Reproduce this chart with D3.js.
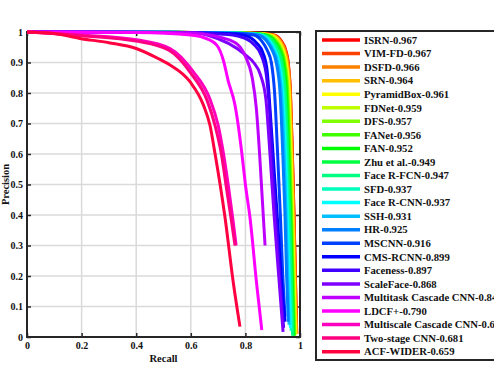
<!DOCTYPE html>
<html lang="en">
<head>
	<meta charset="utf-8">
	<title>PR curves</title>
	<script type="text/javascript" src="https://cdn.jsdelivr.net/npm/d3@7/dist/d3.min.js" charset="utf-8"></script>
	<style type="text/css">
		body { margin: 0; background: #fff; }
		.axis path { display: none; }
		.axis line { stroke: #262626; stroke-width: 1.5; }
		.axis text {
			font-family: "Liberation Serif", "Times New Roman", serif;
			font-weight: bold;
			font-size: 10px;
			fill: #111;
		}
		.lbl {
			font-family: "Liberation Serif", "Times New Roman", serif;
			font-weight: bold;
			font-size: 10.5px;
			fill: #111;
		}
	</style>
</head>
<body>
<script type="text/javascript">

// Method names and scores, in legend order
var methods = ["ISRN", "VIM-FD", "DSFD", "SRN", "PyramidBox", "FDNet", "DFS", "FANet", "FAN",
	"Zhu et al.", "Face R-FCN", "SFD", "Face R-CNN", "SSH", "HR", "MSCNN", "CMS-RCNN",
	"Faceness", "ScaleFace", "Multitask Cascade CNN", "LDCF+", "Multiscale Cascade CNN",
	"Two-stage CNN", "ACF-WIDER"];
var scores = [0.967, 0.967, 0.966, 0.964, 0.961, 0.959, 0.957, 0.956, 0.952, 0.949, 0.947, 0.937,
	0.937, 0.931, 0.925, 0.916, 0.899, 0.897, 0.868, 0.848, 0.790, 0.691, 0.681, 0.659];

// Curves as [recall, precision] pairs
var prIsrn = [[0,1],[0.5,0.999],[0.85,0.996],[0.905,0.99],[0.932,0.97],[0.948,0.94],[0.957,0.9],[0.965,0.8],[0.972,0.6],[0.978,0.4],[0.983,0.2],[0.988,0.01]];
var prVim = [[0,1],[0.5,0.999],[0.85,0.996],[0.9,0.99],[0.93,0.97],[0.946,0.94],[0.956,0.9],[0.965,0.8],[0.972,0.6],[0.978,0.4],[0.983,0.2],[0.988,0.01]];
var prDsfd = [[0,1],[0.5,0.999],[0.85,0.995],[0.9,0.99],[0.928,0.97],[0.945,0.94],[0.955,0.9],[0.964,0.8],[0.971,0.6],[0.977,0.4],[0.982,0.2],[0.987,0.01]];
var prSrn = [[0,1],[0.5,0.999],[0.84,0.995],[0.895,0.99],[0.925,0.97],[0.942,0.94],[0.952,0.9],[0.962,0.8],[0.969,0.6],[0.975,0.4],[0.98,0.2],[0.986,0.01]];
var prPyramid = [[0,1],[0.5,0.999],[0.84,0.995],[0.89,0.99],[0.92,0.97],[0.938,0.94],[0.949,0.9],[0.96,0.8],[0.967,0.6],[0.973,0.4],[0.978,0.2],[0.984,0.01]];
var prFdnet = [[0,1],[0.5,0.999],[0.83,0.995],[0.885,0.99],[0.917,0.97],[0.935,0.94],[0.946,0.9],[0.957,0.8],[0.965,0.6],[0.971,0.4],[0.976,0.2],[0.982,0.005]];
var prDfs = [[0,1],[0.5,0.999],[0.83,0.995],[0.88,0.99],[0.913,0.97],[0.932,0.94],[0.944,0.9],[0.955,0.8],[0.963,0.6],[0.969,0.4],[0.974,0.2],[0.98,0.005]];
var prFanet = [[0,1],[0.5,0.999],[0.83,0.995],[0.878,0.99],[0.91,0.97],[0.93,0.94],[0.942,0.9],[0.953,0.8],[0.961,0.6],[0.967,0.4],[0.973,0.2],[0.979,0.005]];
var prFan = [[0,1],[0.5,0.999],[0.82,0.995],[0.873,0.99],[0.906,0.97],[0.926,0.94],[0.939,0.9],[0.95,0.8],[0.958,0.6],[0.965,0.4],[0.971,0.2],[0.977,0.005]];
var prZhu = [[0,1],[0.5,0.999],[0.82,0.995],[0.868,0.99],[0.902,0.97],[0.922,0.94],[0.935,0.9],[0.947,0.8],[0.956,0.6],[0.963,0.4],[0.969,0.2],[0.975,0.005]];
var prRfcn = [[0,1],[0.5,0.999],[0.81,0.995],[0.865,0.99],[0.898,0.97],[0.918,0.94],[0.932,0.9],[0.945,0.8],[0.954,0.6],[0.961,0.4],[0.967,0.2],[0.973,0.005]];
var prSfd = [[0,1],[0.5,0.999],[0.8,0.995],[0.855,0.99],[0.89,0.97],[0.91,0.94],[0.925,0.9],[0.939,0.8],[0.949,0.6],[0.956,0.4],[0.962,0.2],[0.968,0.02]];
var prRcnn = [[0,1],[0.5,0.999],[0.8,0.995],[0.855,0.99],[0.888,0.97],[0.908,0.94],[0.922,0.9],[0.936,0.8],[0.946,0.6],[0.953,0.4],[0.959,0.2],[0.965,0.03]];
var prSsh = [[0,1],[0.5,0.999],[0.8,0.995],[0.85,0.99],[0.883,0.97],[0.903,0.94],[0.918,0.9],[0.932,0.8],[0.942,0.6],[0.949,0.4],[0.955,0.2],[0.96,0.04]];
var prHr = [[0,1],[0.5,0.999],[0.79,0.995],[0.845,0.99],[0.878,0.97],[0.898,0.94],[0.913,0.9],[0.927,0.8],[0.937,0.6],[0.945,0.4],[0.951,0.2],[0.957,0.05]];
var prMscnn = [[0,1],[0.5,0.998],[0.77,0.995],[0.83,0.99],[0.86,0.97],[0.88,0.94],[0.895,0.9],[0.907,0.8],[0.918,0.6],[0.928,0.4],[0.937,0.2],[0.945,0.067]];
var prCms = [[0,1],[0.5,0.998],[0.75,0.994],[0.8,0.988],[0.84,0.965],[0.865,0.93],[0.88,0.87],[0.89,0.75],[0.905,0.55],[0.92,0.35],[0.935,0.15],[0.945,0.05]];
var prFaceness = [[0,1],[0.5,0.998],[0.72,0.993],[0.78,0.985],[0.83,0.96],[0.86,0.92],[0.878,0.85],[0.888,0.75],[0.9,0.55],[0.915,0.35],[0.93,0.15],[0.94,0.03]];
var prScaleface = [[0,1],[0.5,0.999],[0.62,0.998],[0.66,0.99],[0.8,0.925],[0.83,0.9],[0.855,0.86],[0.875,0.78],[0.89,0.6],[0.905,0.4],[0.922,0.2],[0.938,0.017]];
var prMtcnn = [[0,1],[0.5,0.998],[0.65,0.993],[0.72,0.98],[0.77,0.96],[0.8,0.92],[0.825,0.85],[0.84,0.75],[0.852,0.6],[0.862,0.45],[0.872,0.3]];
var prLdcf = [[0,1],[0.4,0.998],[0.6,0.99],[0.646,0.982],[0.695,0.957],[0.72,0.905],[0.737,0.84],[0.762,0.76],[0.786,0.61],[0.8,0.5],[0.817,0.39],[0.841,0.176],[0.86,0.023]];
var prMultiscale = [[0,1],[0.2,0.99],[0.4,0.975],[0.524,0.946],[0.609,0.87],[0.67,0.78],[0.7,0.695],[0.72,0.6],[0.74,0.48],[0.755,0.38],[0.766,0.3]];
var prTwostage = [[0,1],[0.2,0.988],[0.4,0.97],[0.52,0.94],[0.6,0.865],[0.66,0.775],[0.69,0.69],[0.712,0.6],[0.732,0.48],[0.749,0.38],[0.762,0.3]];
var prAcf = [[0,1],[0.1,0.995],[0.194,0.979],[0.3,0.965],[0.4,0.946],[0.487,0.91],[0.524,0.892],[0.597,0.837],[0.646,0.761],[0.67,0.695],[0.689,0.6],[0.725,0.394],[0.756,0.176],[0.78,0.034]];

var curves = [prIsrn, prVim, prDsfd, prSrn, prPyramid, prFdnet, prDfs, prFanet, prFan, prZhu,
	prRfcn, prSfd, prRcnn, prSsh, prHr, prMscnn, prCms, prFaceness, prScaleface, prMtcnn,
	prLdcf, prMultiscale, prTwostage, prAcf];

// Tick values
var xTicks = [0, 0.2, 0.4, 0.6, 0.8, 1];
var yTicks = [0, 0.1, 0.2, 0.3, 0.4, 0.5, 0.6, 0.7, 0.8, 0.9, 1];

// Plot area
var margin = {top: 32, right: 194, bottom: 37, left: 27};
var outer_width = 494;
var outer_height = 374;
var w = outer_width - margin.left - margin.right;
var h = outer_height - margin.top - margin.bottom;

// hsv colour map, one hue per method
function colorOf(i) {
	return d3.hsl(i * 360 / methods.length, 1, 0.5).toString();
}

var xScale = d3.scaleLinear().domain([0, 1]).range([0, w]);
var yScale = d3.scaleLinear().domain([0, 1]).range([h, 0]);

var svg = d3.select("body")
	.append("svg")
	.attr("width", outer_width)
	.attr("height", outer_height);

var g = svg.append("g")
	.attr("transform", "translate(" + margin.left + "," + margin.top + ")");

// grid
g.selectAll(".gx").data(xTicks).enter().append("line")
	.attr("x1", function(d) { return xScale(d); })
	.attr("x2", function(d) { return xScale(d); })
	.attr("y1", 0).attr("y2", h)
	.attr("stroke", "#dadada").attr("stroke-width", 1.5);
g.selectAll(".gy").data(yTicks).enter().append("line")
	.attr("y1", function(d) { return yScale(d); })
	.attr("y2", function(d) { return yScale(d); })
	.attr("x1", 0).attr("x2", w)
	.attr("stroke", "#dadada").attr("stroke-width", 1.5);

// axes with inward ticks
g.append("g").attr("class", "axis")
	.attr("transform", "translate(0," + h + ")")
	.call(d3.axisBottom(xScale).tickValues(xTicks).tickSizeInner(-4).tickSizeOuter(0).tickPadding(5)
		.tickFormat(function(d) { return String(d); }));
g.append("g").attr("class", "axis")
	.call(d3.axisLeft(yScale).tickValues(yTicks).tickSizeInner(-4).tickSizeOuter(0).tickPadding(4)
		.tickFormat(function(d) { return String(d); }));
g.append("g").attr("class", "axis")
	.attr("transform", "translate(" + w + ",0)")
	.call(d3.axisRight(yScale).tickValues(yTicks).tickSizeInner(-4).tickSizeOuter(0).tickFormat(""));
g.append("g").attr("class", "axis")
	.call(d3.axisTop(xScale).tickValues(xTicks).tickSizeInner(-4).tickSizeOuter(0).tickFormat(""));

// box
g.append("rect")
	.attr("width", w).attr("height", h)
	.attr("fill", "none")
	.attr("stroke", "#262626")
	.attr("stroke-width", 2);

// PR curves
var line = d3.line()
	.x(function(d) { return xScale(d[0]); })
	.y(function(d) { return yScale(d[1]); })
	.curve(d3.curveMonotoneX);

g.selectAll(".pr").data(curves).enter().append("path")
	.attr("class", "pr")
	.attr("d", line)
	.attr("fill", "none")
	.attr("stroke", function(d, i) { return colorOf(i); })
	.attr("stroke-width", 3)
	.attr("stroke-linejoin", "round");

// axis labels
svg.append("text").attr("class", "lbl")
	.attr("x", margin.left + w / 2).attr("y", 362)
	.attr("text-anchor", "middle")
	.text("Recall");
svg.append("text").attr("class", "lbl")
	.attr("transform", "translate(9," + (margin.top + h / 2) + ") rotate(-90)")
	.attr("text-anchor", "middle")
	.text("Precision");

// legend
var legend = svg.append("g").attr("transform", "translate(316,31)");
legend.append("rect")
	.attr("width", 200).attr("height", 329)
	.attr("fill", "#fff")
	.attr("stroke", "#262626")
	.attr("stroke-width", 2);

var rowH = 13.55;
var items = legend.selectAll(".item").data(methods).enter().append("g")
	.attr("transform", function(d, i) { return "translate(0," + (9 + i * rowH) + ")"; });
items.append("line")
	.attr("x1", 6).attr("x2", 44)
	.attr("stroke", function(d, i) { return colorOf(i); })
	.attr("stroke-width", 3.5);
items.append("text").attr("class", "lbl")
	.attr("x", 48).attr("dy", "0.35em")
	.style("font-size", "10.7px")
	.text(function(d, i) { return d + "-" + scores[i].toFixed(3); });

</script>
</body>
</html>
